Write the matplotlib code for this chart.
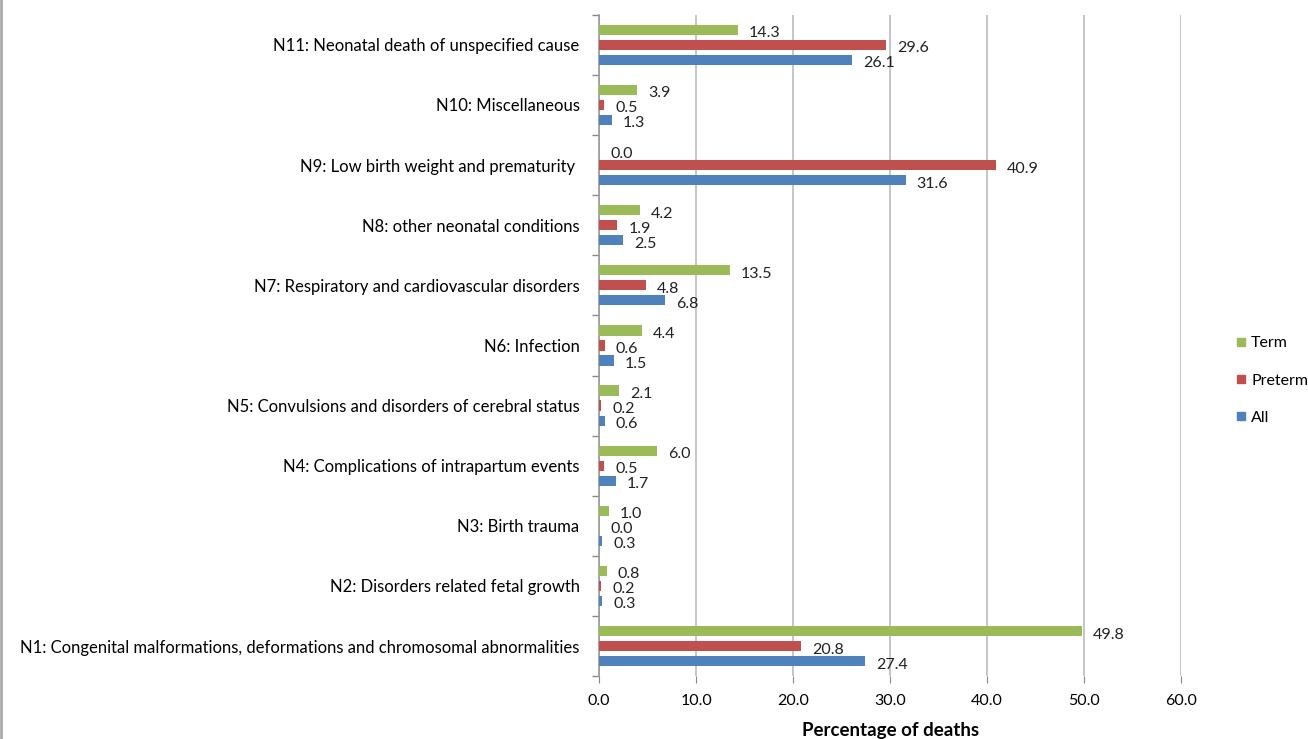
import matplotlib.pyplot as plt
import numpy as np
from matplotlib.lines import Line2D
from matplotlib.ticker import MultipleLocator

plt.rcParams['font.family'] = ['Lato', 'DejaVu Sans']

categories = [
    "N1: Congenital malformations, deformations and chromosomal abnormalities",
    "N2: Disorders related fetal growth",
    "N3: Birth trauma",
    "N4: Complications of intrapartum events",
    "N5: Convulsions and disorders of cerebral status",
    "N6: Infection",
    "N7: Respiratory and cardiovascular disorders",
    "N8: other neonatal conditions",
    "N9: Low birth weight and prematurity ",
    "N10: Miscellaneous",
    "N11: Neonatal death of unspecified cause",
]
term = [49.8, 0.8, 1.0, 6.0, 2.1, 4.4, 13.5, 4.2, 0.0, 3.9, 14.3]
preterm = [20.8, 0.2, 0.0, 0.5, 0.2, 0.6, 4.8, 1.9, 40.9, 0.5, 29.6]
all_ = [27.4, 0.3, 0.3, 1.7, 0.6, 1.5, 6.8, 2.5, 31.6, 1.3, 26.1]

c_term = '#9BBB59'
c_pre = '#C0504D'
c_all = '#4F81BD'

fig = plt.figure(figsize=(13.08, 7.39), dpi=100)
ax = fig.add_axes([0.458, 0.085, 0.445, 0.895])

y = np.arange(len(categories))
h = 0.17
off = 0.25
ax.barh(y + off, term, height=h, color=c_term, zorder=3)
ax.barh(y, preterm, height=h, color=c_pre, zorder=3)
ax.barh(y - off, all_, height=h, color=c_all, zorder=3)

for vals, dy in ((term, off), (preterm, 0), (all_, -off)):
    for yi, v in zip(y, vals):
        ax.annotate(f"{v:.1f}", (v, yi + dy), xytext=(8, -2.5), textcoords='offset points',
                    va='center', ha='left', fontsize=11.5, color='#222222')

ax.set_xlim(0, 60)
ax.set_ylim(-0.5, len(categories) - 0.5)
ax.xaxis.set_major_locator(MultipleLocator(10))
ax.set_xticklabels([f"{t:.1f}" for t in ax.get_xticks()])
ax.set_yticks(y)
ax.set_yticklabels(categories, fontsize=12)
ax.set_yticks(np.arange(-0.5, len(categories), 1), minor=True)
ax.tick_params(axis='y', which='major', length=0, pad=14)
ax.tick_params(axis='y', which='minor', length=5, color='#888888', width=1)
ax.tick_params(axis='x', length=5, color='#888888', labelsize=11.5, pad=8)
ax.grid(axis='x', color='#BBBBBB', linewidth=1.2, zorder=0)
for s in ('top', 'right', 'bottom'):
    ax.spines[s].set_visible(False)
ax.spines['left'].set_color('#999999')
ax.spines['left'].set_linewidth(1.2)
ax.set_xlabel("Percentage of deaths", fontsize=13.5, fontweight='bold', labelpad=10)

handles = [Line2D([], [], marker='s', linestyle='', color=c, markersize=6)
           for c in (c_term, c_pre, c_all)]
fig.legend(handles, ["Term", "Preterm", "All"], loc='center left',
           bbox_to_anchor=(0.932, 0.485), frameon=False, fontsize=11.5,
           handletextpad=0.1, labelspacing=1.45, handlelength=1.0)

fig.add_artist(Line2D([0.001, 0.001], [0, 1], color='#AAAAAA', linewidth=2,
                      transform=fig.transFigure))

fig.savefig("out.png", dpi=100)
